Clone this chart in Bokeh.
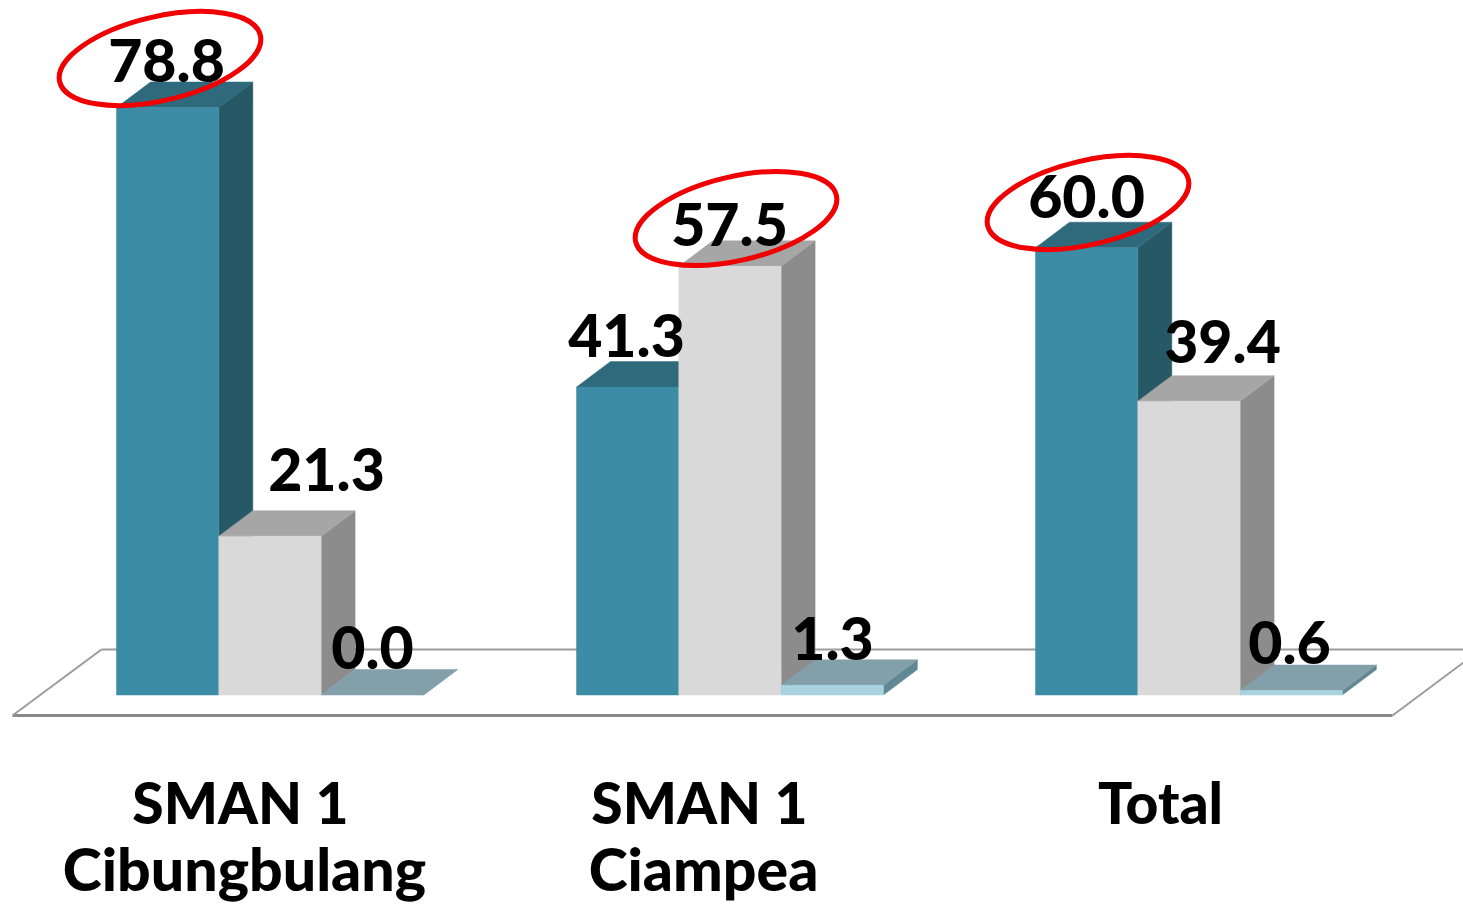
from bokeh.plotting import figure
from bokeh.embed import file_html
from bokeh.resources import INLINE
from bokeh.core.properties import value

# --- data ---
groups = ["SMAN 1\nCibungbulang", "SMAN 1\nCiampea", "Total"]
series_1 = [78.8, 41.3, 60.0]
series_2 = [21.3, 57.5, 39.4]
series_3 = [0.0, 1.3, 0.6]

# --- layout (page pixels of the reference) ---
W, H = 1463, 904
PX = 7.455
BASE = 694.5
group_left = [116, 576, 1035]
bar_w = 102.3
DX, DY = 34, 25.5
FONT = value("Lato Black")
FS = "59px"
TXT_FIX = 21.6   # renderer's baseline sits this far below the requested position

def v(py):
    return (BASE - py) / PX

p = figure(width=W, height=H, x_range=(0, W), y_range=(v(H), v(0)),
           output_backend="svg", toolbar_location=None, min_border=0,
           background_fill_color="white", border_fill_color="white", outline_line_color=None)
p.axis.visible = False
p.grid.visible = False

# floor
p.line([101, 1463], [v(649), v(649)], line_color="#9c9c9c", line_width=2)
p.line([12, 1392], [v(715), v(715)], line_color="#888888", line_width=3)
p.line([12, 101], [v(715), v(649)], line_color="#9c9c9c", line_width=2)
p.line([1392, 1463], [v(715), v(662)], line_color="#9c9c9c", line_width=2)

palettes = [("#3d8ca6", "#2f6a7c", "#265866"),
            ("#d9d9d9", "#a6a6a6", "#8c8c8c"),
            ("#a9d3e0", "#829faa", "#5f8794")]
dv = DY / PX

for g, left in enumerate(group_left):
    for s, vals in enumerate([series_1, series_2, series_3]):
        val = vals[g]
        x0 = left + s * bar_w
        x1 = x0 + bar_w
        front, top, side = palettes[s]
        p.patch([x1, x1 + DX, x1 + DX, x1], [0, dv, val + dv, val],
                fill_color=side, line_color=side, line_width=0.5)
        p.patch([x0, x1, x1 + DX, x0 + DX], [val, val, val + dv, val + dv],
                fill_color=top, line_color=top, line_width=0.5)
        if val > 0:
            p.quad(left=x0, right=x1, bottom=0, top=val,
                   fill_color=front, line_color=front, line_width=0.5)

# value labels
label_x = [[166, 326, 372], [626, 729, 832], [1086, 1222, 1289]]
label_gap = [[25, 45, 26], [30, 20.5, 25], [29.5, 38.5, 26]]
for g in range(3):
    for s, vals in enumerate([series_1, series_2, series_3]):
        p.text([label_x[g][s]], [vals[g]], text=[f"{vals[g]:.1f}"],
               y_offset=-label_gap[g][s] - TXT_FIX, text_font=FONT,
               text_font_size=FS, text_align="center", text_baseline="alphabetic",
               text_color="black")

# red ellipses
ell_x = [159.5, 735.5, 1087.5]
ell_y = [58, 218, 202]
p.ellipse(ell_x, [v(y) for y in ell_y], width=206, height=84, width_units="screen", height_units="screen",
          angle=0.227, fill_color=None, line_color="#f00000", line_width=5)

# category labels
cat_x = [(240, 244), (699, 703), (1160, None)]
for name, (x1, x2) in zip(groups, cat_x):
    lines = name.split("\n")
    p.text([x1], [v(823)], text=[lines[0]], y_offset=-TXT_FIX, text_font=FONT, text_font_size="57px",
           text_align="center", text_baseline="alphabetic", text_color="black")
    if len(lines) > 1:
        p.text([x2], [v(889.5)], text=[lines[1]], y_offset=-TXT_FIX, text_font=FONT, text_font_size=FS,
               text_align="center", text_baseline="alphabetic", text_color="black")

open("out.html", "w").write(file_html(p, INLINE))
